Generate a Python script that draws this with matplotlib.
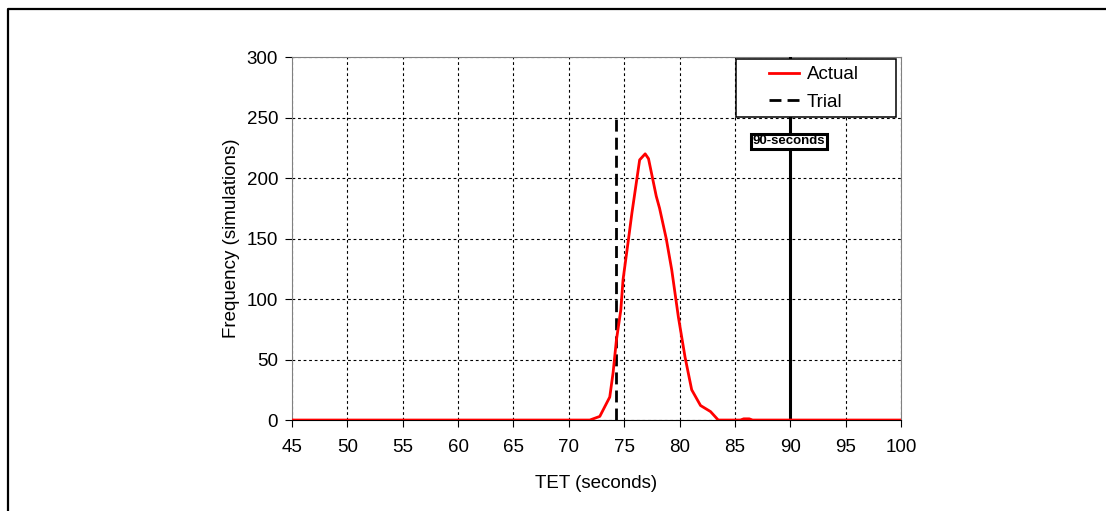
import matplotlib.pyplot as plt
from matplotlib.lines import Line2D
from matplotlib.patches import Rectangle

plt.rcParams['font.family'] = ['Liberation Sans', 'DejaVu Sans']

# simulated TET distribution
tet = [45, 71.9, 72.8, 73.7, 74.0, 74.3, 74.7, 74.9, 75.4, 75.7, 76.4, 76.9, 77.2,
       77.9, 78.2, 78.8, 79.3, 79.9, 80.5, 81.1, 81.9, 82.8, 83.5, 85.5, 85.8,
       86.3, 86.6, 100]
freq = [0, 0, 3, 19, 39, 66, 91, 116, 150, 171, 215, 220, 216,
        185, 175, 150, 124, 85, 52, 25, 12, 7, 0, 0, 1,
        1, 0, 0]

trial_x = 74.3
trial_top = 250
limit_x = 90
limit_label = "90-seconds"

xticks = list(range(45, 101, 5))
yticks = list(range(0, 301, 50))

fs = 13.5

fig = plt.figure(figsize=(11.06, 5.11), dpi=100)
ax = fig.add_axes([0.264, 0.178, 0.5506, 0.7104])

ax.plot(tet, freq, color='red', lw=2, label='Actual', zorder=4)
ax.plot([trial_x, trial_x], [0, trial_top], color='black', lw=2,
        dashes=(4.3, 2.2), label='Trial', zorder=3)
ax.plot([limit_x, limit_x], [0, 300], color='black', lw=2.2, zorder=3)
ax.text(limit_x - 0.1, 230.5, limit_label, ha='center', va='center', fontsize=9.5,
        fontweight='bold', zorder=5,
        bbox=dict(boxstyle='square,pad=0.12', fc='white', ec='black', lw=2.2))

ax.set_xlim(45, 100)
ax.set_ylim(0, 300)
ax.set_xticks(xticks)
ax.set_yticks(yticks)
ax.tick_params(labelsize=fs, length=5, direction='out', color='black')
ax.tick_params(axis='x', pad=9)
ax.tick_params(axis='y', pad=5)
ax.grid(True, color='black', ls=(0, (2.5, 2.5)), lw=0.8)
for side in ['top', 'right', 'left']:
    ax.spines[side].set_color('#808080')
ax.spines['bottom'].set_color('black')

ax.set_xlabel('TET (seconds)', fontsize=fs, labelpad=13)
ax.set_ylabel('Frequency (simulations)', fontsize=fs, labelpad=5)

# legend box drawn by hand: wide frame with centred entries
ax.add_patch(Rectangle((0.729, 0.835), 0.263, 0.1595, transform=ax.transAxes,
                       fc='white', ec='black', lw=1.1, zorder=6))
leg = ax.legend(loc='center', bbox_to_anchor=(0.857, 0.913), fontsize=fs,
                frameon=False, handlelength=1.6, handletextpad=0.4,
                labelspacing=0.55, borderpad=0)
leg.set_zorder(7)

# outer frame, cut off at the right and bottom
fig.add_artist(Line2D([8 / 1106, 8 / 1106, 1.01], [-0.01, 1 - 9 / 511, 1 - 9 / 511],
                      transform=fig.transFigure, color='black', lw=1.6))

fig.savefig('out.png', dpi=100)
